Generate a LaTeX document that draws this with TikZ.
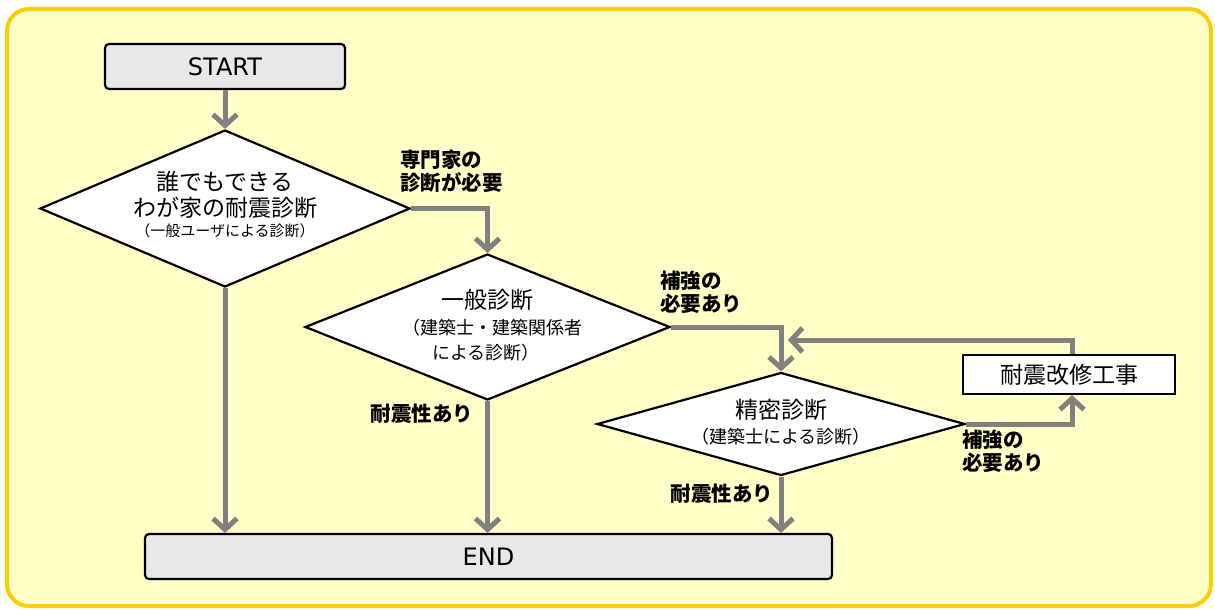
\documentclass[tikz,border=0pt]{standalone}
\usepackage{fontspec}
\setmainfont{Noto Sans CJK JP}
\newfontfamily\latinfont{DejaVu Sans}
\usetikzlibrary{shapes.geometric,arrows.meta}
\definecolor{bgyel}{RGB}{255,255,200}
\definecolor{framecol}{RGB}{255,204,0}
\definecolor{arrgray}{RGB}{128,128,128}
\definecolor{boxgray}{RGB}{232,232,232}
\begin{document}
\begin{tikzpicture}[x=1pt,y=-1pt,
 arr/.style={draw=arrgray, line width=5pt, -{Straight Barb[length=11pt,width=24pt]}},
 dia/.style={diamond, draw=black, line width=2.2pt, fill=white, inner sep=0pt},
 term/.style={draw=black, line width=2.2pt, fill=boxgray, rounded corners=4pt, inner sep=0pt, font=\latinfont\fontsize{24}{28}\selectfont},
 proc/.style={draw=black, line width=2.2pt, fill=white, inner sep=0pt, font=\fontsize{23}{27}\selectfont},
 main/.style={inner sep=0pt, font=\fontsize{23}{27}\selectfont},
 sub/.style={inner sep=0pt, font=\fontsize{18}{22}\selectfont},
 lab/.style={inner sep=0pt, align=left, font=\bfseries\fontsize{20.5}{23}\selectfont},
]
\useasboundingbox (0,0) rectangle (1215,610);
\draw[framecol, line width=4pt, fill=bgyel, rounded corners=22pt] (7,9) rectangle (1211,606);

\node[term, minimum width=240pt, minimum height=45pt] (start) at (225,66.5) {START};
\node[term, minimum width=687pt, minimum height=45pt] (end) at (488.5,556.5) {END};

\node[dia, minimum width=370pt, minimum height=157pt] (d1) at (225,208.5) {};
\node[main] (d1a) at (225,182) {誰でもできる};
\node[main] (d1b) at (225,208) {わが家の耐震診断};
\node[inner sep=0pt, font=\fontsize{15}{17}\selectfont] (d1c) at (225,231) {（一般ユーザによる診断）};

\node[dia, minimum width=365pt, minimum height=146pt] (d2) at (487.5,327) {};
\node[main] (d2a) at (487.5,300) {一般診断};
\node[sub] (d2b) at (492,328) {（建築士・建築関係者};
\node[sub] (d2c) at (486,353) {による診断）};

\node[dia, minimum width=368pt, minimum height=103pt] (d3) at (781,424) {};
\node[main] (d3a) at (781,410) {精密診断};
\node[sub] (d3b) at (781,437) {（建築士による診断）};

\node[proc, minimum width=212pt, minimum height=39pt] (rep) at (1069,374.5) {耐震改修工事};
\coordinate (back) at (788,340);

\draw[arr] (start) -- (d1);
\draw[arr] (d1.east) -| (d2.north);
\draw[arr] (d2.east) -| (d3.north);
\draw[arr] (d3.east) -| ([xshift=3pt]rep.south);
\draw[arr] ([xshift=3pt]rep.north) |- (back);
\draw[arr] (d1.south) -- (d1.south |- end.north);
\draw[arr] (d2.south) -- (d2.south |- end.north);
\draw[arr] (d3.south) -- (d3.south |- end.north);

\node[lab, anchor=west] (l1) at (400,171.5) {専門家の\\診断が必要};
\node[lab, anchor=west] (l2) at (660,292) {補強の\\必要あり};
\node[lab] (l3) at (422,414) {耐震性あり};
\node[lab, anchor=west] (l4) at (962,451) {補強の\\必要あり};
\node[lab] (l5) at (722,494) {耐震性あり};
\end{tikzpicture}
\end{document}
